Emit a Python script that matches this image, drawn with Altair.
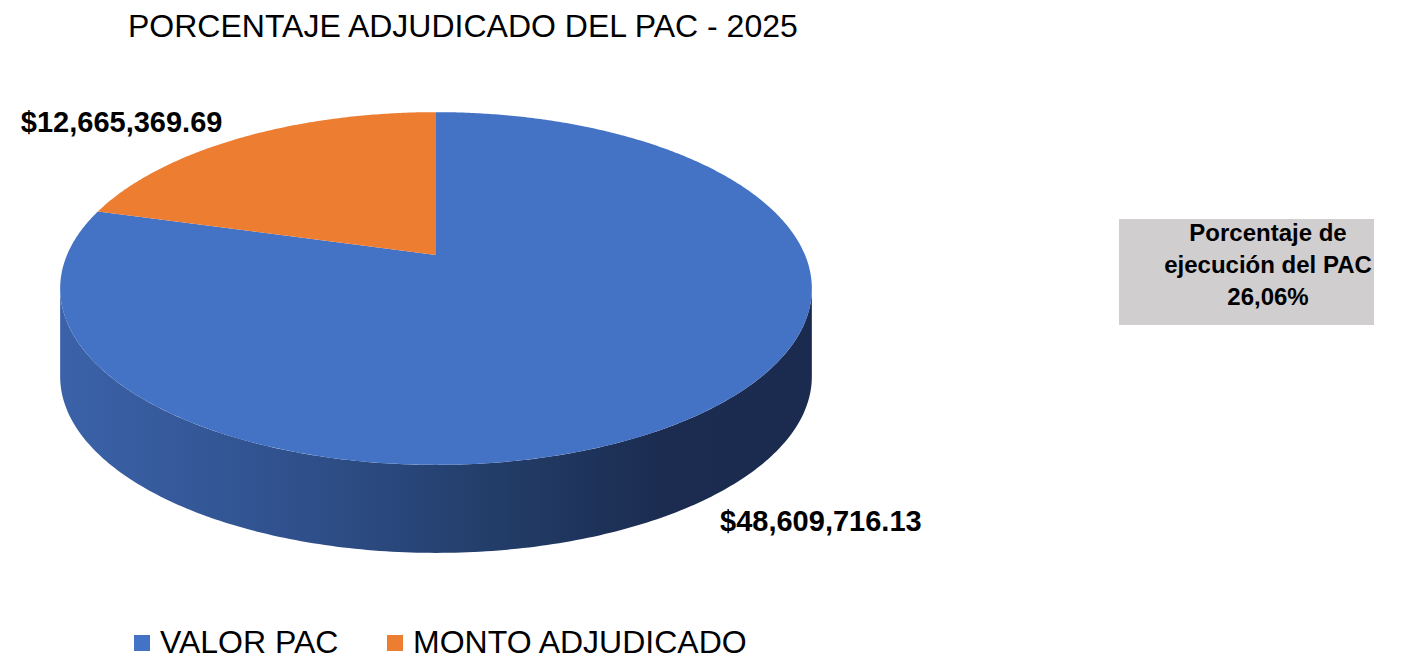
import math
import altair as alt
import pandas as pd

# ---------------- data ----------------
labels = ["VALOR PAC", "MONTO ADJUDICADO"]
values = [48609716.13, 12665369.69]
colors = ["#4472C4", "#ED7D31"]
chart_title = "PORCENTAJE ADJUDICADO DEL PAC - 2025"
box_lines = ["Porcentaje de", "ejecución del PAC"]

# ---------------- geometry (3D pie projection) ----------------
CX, CY = 436.0, 255.0      # page-pixel centre of the pie top
A, B, K = 369.0, 170.0, 0.19   # radii and perspective factor
DEPTH = 88.0
FONT = "Liberation Sans"


def proj(theta_deg, r=1.0):
    t = math.radians(theta_deg)
    u, v = r * math.sin(t), r * math.cos(t)
    den = 1 + K * v
    return CX + A * u / den, CY - B * v / den


total = sum(values)
rows = []
starts = []
acc = 0.0
for lab, val in zip(labels, values):
    a0 = acc / total * 360
    acc += val
    a1 = acc / total * 360
    starts.append((a0, a1))
    i = 0
    rows.append({"piece": lab, "i": i, "x": CX, "y": CY})
    n = max(int((a1 - a0) * 2), 2)
    for j in range(n + 1):
        i += 1
        x, y = proj(a0 + (a1 - a0) * j / n)
        rows.append({"piece": lab, "i": i, "x": x, "y": y})
top_df = pd.DataFrame(rows)

# visible side wall (front half, between the tangent points)
tan = math.degrees(math.acos(-K))
side_rows = []
n = 200
k = 0
for j in range(n + 1):
    th = tan + (360 - 2 * tan) * j / n
    x, y = proj(th)
    side_rows.append({"i": k, "x": x, "y": y}); k += 1
for j in range(n, -1, -1):
    th = tan + (360 - 2 * tan) * j / n
    x, y = proj(th)
    side_rows.append({"i": k, "x": x, "y": y + DEPTH}); k += 1
side_df = pd.DataFrame(side_rows)

# value labels
mid_o = sum(starts[1]) / 2
mid_b = sum(starts[0]) / 2
ox, oy = proj(mid_o, 1.15)
bx, by = proj(mid_b, 1.08)
lab_o = pd.DataFrame([{"x": ox + 5, "y": oy + 1, "t": "${:,.2f}".format(values[1])}])
lab_b = pd.DataFrame([{"x": bx - 4, "y": by + DEPTH + 4, "t": "${:,.2f}".format(values[0])}])

pct = values[1] / values[0] * 100
pct_txt = ("{:.2f}".format(pct)).replace(".", ",") + "%"
box_df = pd.DataFrame([{"x": 1119, "x2": 1374, "y": 219, "y2": 325,
                        "cx": 1268, "cy": 234,
                        "t": box_lines + [pct_txt]}])

# ---------------- scales ----------------
PT = 45
W, H = 1386, 651 - PT
xs = alt.Scale(domain=[8, 8 + W], nice=False, zero=False)
ys = alt.Scale(domain=[8 + PT, 8 + PT + H], nice=False, zero=False, reverse=True)
X = lambda f: alt.X(f, type="quantitative", scale=xs, axis=None)
Y = lambda f: alt.Y(f, type="quantitative", scale=ys, axis=None)

side = alt.Chart(side_df).mark_line(
    filled=True,
    strokeWidth=0,
    fill={"gradient": "linear", "x1": 0, "x2": 1, "y1": 0, "y2": 0,
          "stops": [{"offset": 0, "color": "#3B62A9"},
                    {"offset": 0.35, "color": "#2E4E88"},
                    {"offset": 0.55, "color": "#243F6C"},
                    {"offset": 0.8, "color": "#1B2C50"},
                    {"offset": 1, "color": "#1B2B4F"}]},
).encode(x=X("x"), y=Y("y"), order=alt.Order("i:Q"))

top = alt.Chart(top_df).mark_line(filled=True, strokeWidth=0).encode(
    x=X("x"), y=Y("y"), order=alt.Order("i:Q"),
    detail="piece:N",
    color=alt.Color(
        "piece:N",
        scale=alt.Scale(domain=labels, range=colors),
        legend=alt.Legend(
            title=None, orient="none", legendX=118, legendY=574,
            direction="horizontal", symbolType="square", symbolSize=256,
            symbolStrokeWidth=0, labelFontSize=32, labelFont=FONT,
            labelColor="black", labelOffset=2, columnPadding=40, padding=0,
            labelLimit=0,
        ),
    ),
)

txt_kw = dict(fontSize=29, fontWeight="bold", font=FONT, color="black", baseline="middle")
val_o = alt.Chart(lab_o).mark_text(align="right", **txt_kw).encode(
    x=X("x"), y=Y("y"), text="t:N")
val_b = alt.Chart(lab_b).mark_text(align="left", **txt_kw).encode(
    x=X("x"), y=Y("y"), text="t:N")

box = alt.Chart(box_df).mark_rect(color="#D0CECE").encode(
    x=X("x"), x2="x2", y=Y("y"), y2="y2")
box_txt = alt.Chart(box_df).mark_text(
    fontSize=24, fontWeight="bold", font=FONT, color="black",
    align="center", baseline="middle", lineHeight=32,
).encode(x=X("cx"), y=Y("cy"), text="t")

chart = alt.layer(side, top, val_o, val_b, box, box_txt).properties(
    width=W, height=H,
    title=alt.Title(chart_title, anchor="start", dx=120, fontSize=32,
                    font=FONT, fontWeight="normal", color="black",
                    offset=9),
    autosize=alt.AutoSizeParams(type="none"),
    padding={"left": 0, "top": PT, "right": 0, "bottom": 0},
).configure_view(stroke=None)

chart.save("out.html", embed_options={"renderer": "svg", "actions": False})
